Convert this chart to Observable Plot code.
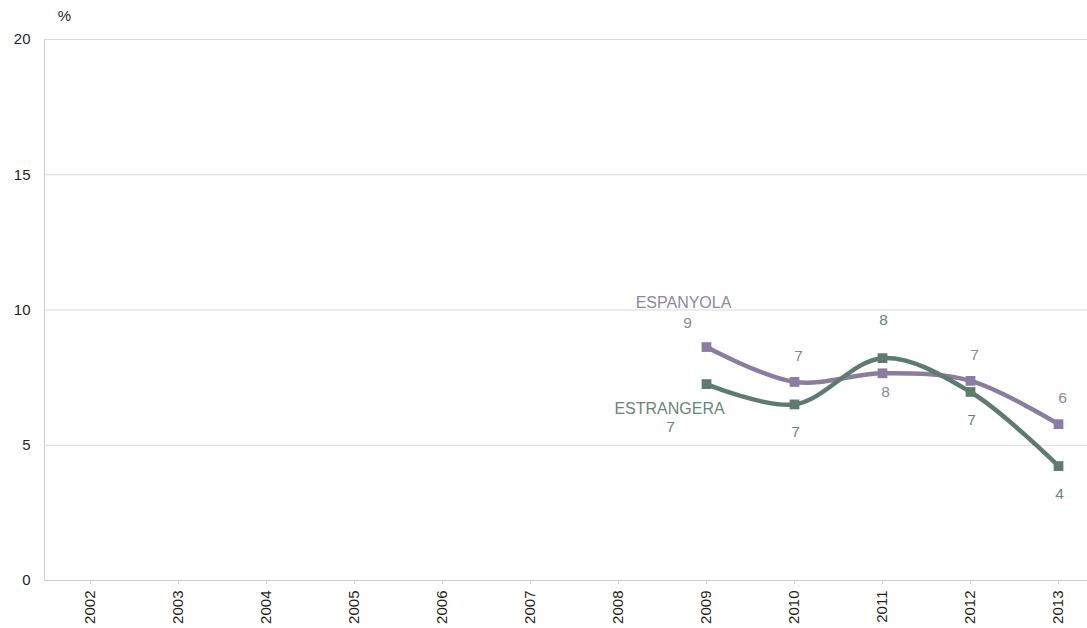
<!DOCTYPE html>
<html>
<head>
<meta charset="utf-8">
<script src="https://cdn.jsdelivr.net/npm/d3@7"></script>
<script src="https://cdn.jsdelivr.net/npm/@observablehq/plot@0.6"></script>
<style>
  html, body { margin: 0; padding: 0; background: #fff; }
  #chart svg { display: block; }
</style>
</head>
<body>
<div id="chart"></div>
<script>
// ---- data ----
const years = [2002, 2003, 2004, 2005, 2006, 2007, 2008, 2009, 2010, 2011, 2012, 2013];
const seriesNames = ["ESPANYOLA", "ESTRANGERA"];
const espanyola  = [null, null, null, null, null, null, null, 8.63, 7.34, 7.66, 7.38, 5.78];
const estrangera = [null, null, null, null, null, null, null, 7.26, 6.51, 8.22, 6.97, 4.23];
// which side of the point each value label sits on
const espanyolaLabelSide  = [null, null, null, null, null, null, null, "first", "above", "below", "above", "above"];
const estrangeraLabelSide = [null, null, null, null, null, null, null, "first", "below", "above", "below", "below"];
const yTicks = [0, 5, 10, 15, 20];

const colors = {ESPANYOLA: "#8a7d9f", ESTRANGERA: "#5e7b6f"};
const textColors = {ESPANYOLA: "#9085a7", ESTRANGERA: "#688679"};

function rows(name, values, sides) {
  return years.map((year, i) => ({year, value: values[i], side: sides[i], series: name}))
              .filter(d => d.value != null);
}
const data = [
  ...rows(seriesNames[0], espanyola, espanyolaLabelSide),
  ...rows(seriesNames[1], estrangera, estrangeraLabelSide)
];
const esp = data.filter(d => d.series === "ESPANYOLA");
const est = data.filter(d => d.series === "ESTRANGERA");

const font = "'Liberation Sans', Arial, sans-serif";
const lbl = d => String(Math.round(d.value));

const chart = Plot.plot({
  width: 1087,
  height: 628,
  marginLeft: 44,
  marginRight: 0,
  marginTop: 39,
  marginBottom: 48,
  style: {fontFamily: font, fontSize: "15px", background: "#fff", color: "#1f1f1f"},
  x: {type: "point", domain: years, range: [88, 1059], padding: 0, label: null},
  y: {domain: [0, 20], label: null},
  marks: [
    Plot.gridY(yTicks, {stroke: "#d9d9d9", strokeOpacity: 1}),
    Plot.ruleY([0], {stroke: "#d0d0d0"}),
    Plot.frame({anchor: "left", stroke: "#d0d0d0"}),
    Plot.axisY(yTicks, {tickSize: 0, tickPadding: 14, label: null, fontSize: 15, fill: "#1f1f1f"}),
    Plot.axisX(years, {tickSize: 4, tickPadding: 6, tickRotate: -90, label: null, tickFormat: d => String(d), stroke: "#d0d0d0", fontSize: 15, fill: "#1f1f1f"}),
    Plot.text(["%"], {frameAnchor: "top-left", textAnchor: "middle", lineAnchor: "middle", dx: 20, dy: -23, fontSize: 15, fill: "#1f1f1f"}),

    // lines
    Plot.line(esp, {x: "year", y: "value", stroke: colors.ESPANYOLA, strokeWidth: 4.5, curve: "catmull-rom"}),
    Plot.dot(esp, {x: "year", y: "value", symbol: "square", r: 5.5, fill: colors.ESPANYOLA, stroke: "none"}),
    Plot.line(est, {x: "year", y: "value", stroke: colors.ESTRANGERA, strokeWidth: 4.5, curve: "catmull-rom"}),
    Plot.dot(est, {x: "year", y: "value", symbol: "square", r: 5.5, fill: colors.ESTRANGERA, stroke: "none"}),

    // value labels – espanyola
    Plot.text(esp.filter(d => d.side === "above"), {x: "year", y: "value", text: lbl, dx: 4, dy: -26, fill: textColors.ESPANYOLA, fontSize: 15.5}),
    Plot.text(esp.filter(d => d.side === "below"), {x: "year", y: "value", text: lbl, dx: 3, dy: 19, fill: textColors.ESPANYOLA, fontSize: 15.5}),
    Plot.text(esp.filter(d => d.side === "first"), {x: "year", y: "value", text: lbl, dx: -19, dy: -24, fill: textColors.ESPANYOLA, fontSize: 15.5}),
    Plot.text(esp.filter(d => d.side === "first"), {x: "year", y: "value", text: "series", dx: -23, dy: -44, fill: textColors.ESPANYOLA, fontSize: 16}),

    // value labels – estrangera
    Plot.text(est.filter(d => d.side === "below"), {x: "year", y: "value", text: lbl, dx: 1, dy: 28, fill: textColors.ESTRANGERA, fontSize: 15.5}),
    Plot.text(est.filter(d => d.side === "above"), {x: "year", y: "value", text: lbl, dx: 1, dy: -38, fill: textColors.ESTRANGERA, fontSize: 15.5}),
    Plot.text(est.filter(d => d.side === "first"), {x: "year", y: "value", text: lbl, dx: -36, dy: 43, fill: textColors.ESTRANGERA, fontSize: 15.5}),
    Plot.text(est.filter(d => d.side === "first"), {x: "year", y: "value", text: "series", dx: -37, dy: 25, fill: textColors.ESTRANGERA, fontSize: 16})
  ]
});
document.getElementById("chart").appendChild(chart);
</script>
</body>
</html>
